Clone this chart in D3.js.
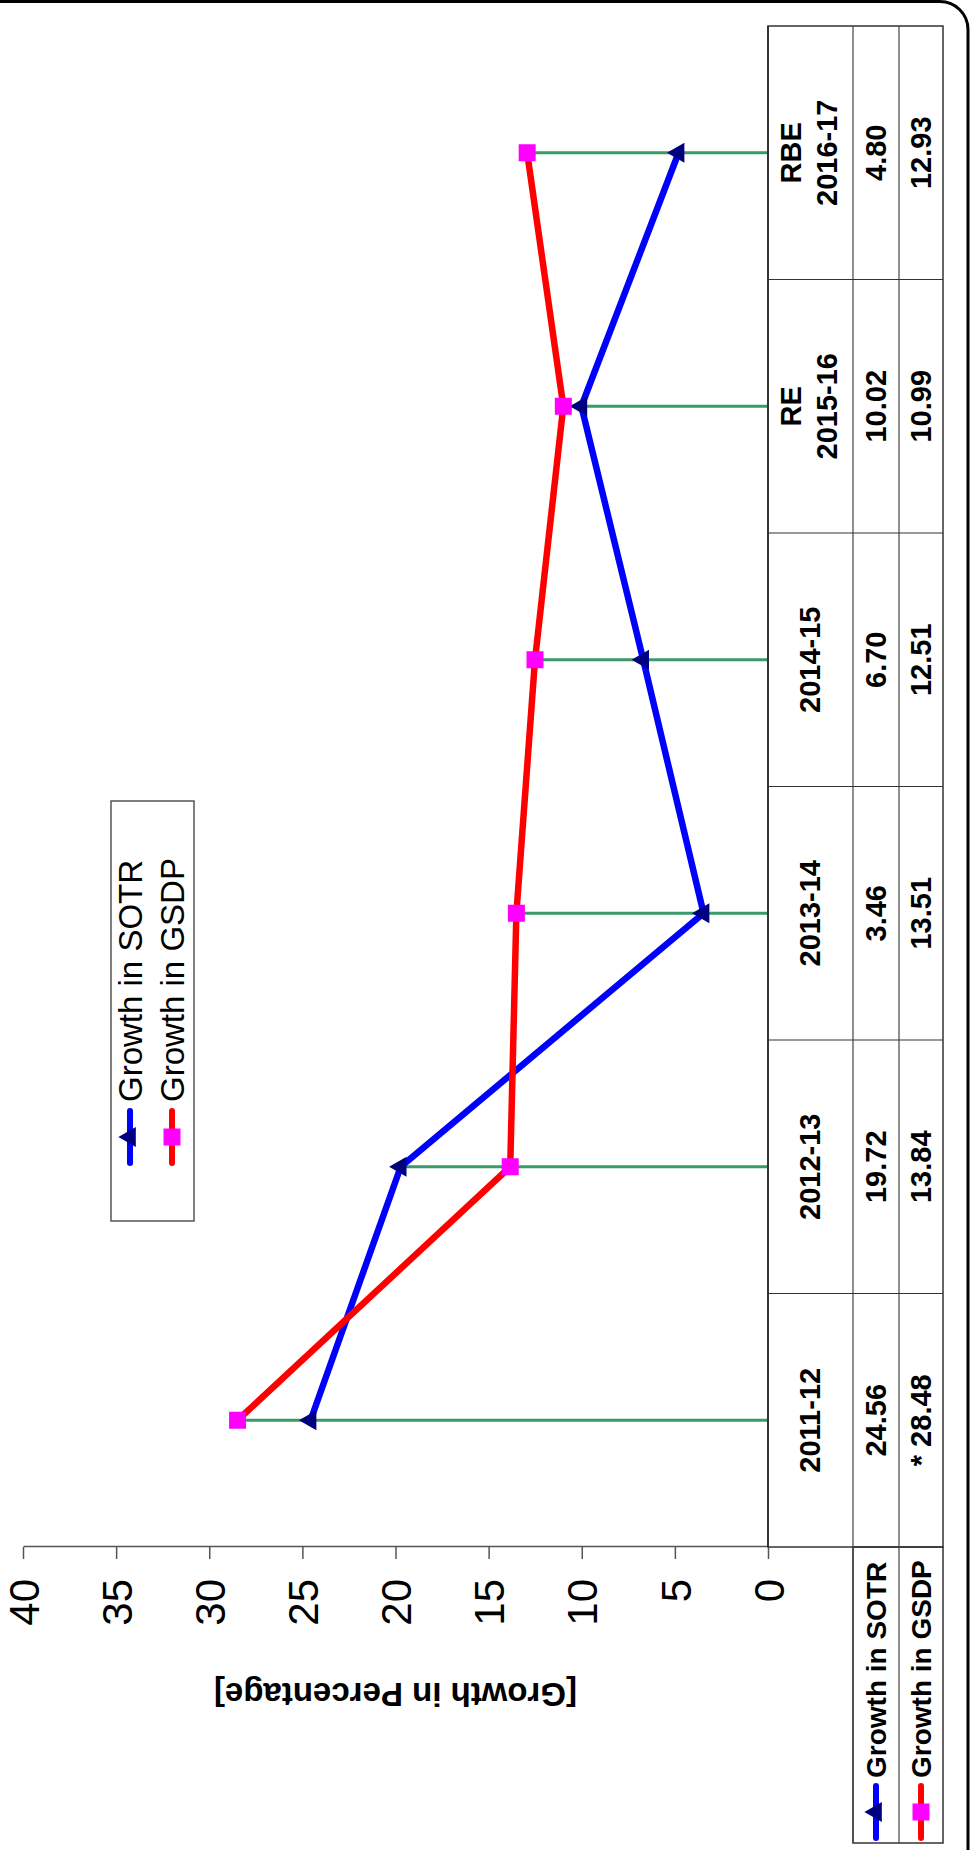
<!DOCTYPE html>
<html>
<head>
<meta charset="utf-8">
<script src="https://cdnjs.cloudflare.com/ajax/libs/d3/7.8.5/d3.min.js"></script>
<style>
  body { margin: 0; background: #fff; }
  svg { display: block; font-family: "Liberation Sans", Arial, sans-serif; }
</style>
</head>
<body>
<svg id="canvas" width="970" height="1850"></svg>
<script>

var categories = ["2011-12", "2012-13", "2013-14", "2014-15", "2015-16", "2016-17"];
var categoryPrefix = ["", "", "", "", "RE", "RBE"];
var sotr = [24.56, 19.72, 3.46, 6.70, 10.02, 4.80];
var gsdp = [28.48, 13.84, 13.51, 12.51, 10.99, 12.93];
var gsdpNote = ["* ", "", "", "", "", ""];
var seriesNames = ["Growth in SOTR", "Growth in GSDP"];
var yTicks = [0, 5, 10, 15, 20, 25, 30, 35, 40];
var yTitle = "[Growth in Percentage]";

var svg = d3.select("#canvas");

// page frame
svg.append("rect")
  .attr("x", -30)
  .attr("y", 1.5)
  .attr("width", 998)
  .attr("height", 1900)
  .attr("rx", 28)
  .attr("fill", "none")
  .attr("stroke", "#000")
  .attr("stroke-width", 3);

// the whole chart is drawn upright and then turned on its side
var chart = svg.append("g")
  .attr("transform", "translate(0,1850) rotate(-90)");

var x = d3.scaleBand()
  .domain(categories)
  .range([303, 1824]);

var y = d3.scaleLinear()
  .domain([0, 40])
  .range([768, 23]);

var rows = { head: [768, 853], sotr: [853, 899], gsdp: [899, 943] };

// y axis
var yAxis = d3.axisLeft(y)
  .tickValues(yTicks)
  .tickSize(12)
  .tickSizeOuter(0)
  .tickPadding(20);

var ax = chart.append("g")
  .attr("class", "y axis")
  .attr("transform", "translate(303,0)")
  .call(yAxis);

ax.select(".domain").attr("stroke", "#555").attr("stroke-width", 1.5);
ax.selectAll(".tick line").attr("stroke", "#555").attr("stroke-width", 1.5);
ax.selectAll(".tick text")
  .attr("font-size", 42)
  .attr("font-family", "Liberation Sans, Arial, sans-serif")
  .attr("fill", "#000")
  .attr("dy", "0.36em");

chart.append("text")
  .attr("transform", "translate(155," + ((y(0) + y(40)) / 2) + ") rotate(-90)")
  .attr("text-anchor", "middle")
  .attr("dy", "0.35em")
  .attr("font-size", 33)
  .attr("font-weight", "bold")
  .text(yTitle);

// drop lines from the higher point to zero
chart.append("g")
  .selectAll("line")
  .data(categories)
  .enter()
  .append("line")
  .attr("x1", function(d) { return x(d) + x.bandwidth() / 2; })
  .attr("x2", function(d) { return x(d) + x.bandwidth() / 2; })
  .attr("y1", y(0))
  .attr("y2", function(d, i) { return y(Math.max(sotr[i], gsdp[i])); })
  .attr("stroke", "#3a9a68")
  .attr("stroke-width", 2.8);

// data table
var table = chart.append("g").attr("class", "table");

table.append("rect")
  .attr("x", 303)
  .attr("y", rows.head[0])
  .attr("width", 1824 - 303)
  .attr("height", rows.gsdp[1] - rows.head[0])
  .attr("fill", "none")
  .attr("stroke", "#333")
  .attr("stroke-width", 1.5);

table.append("rect")
  .attr("x", 7)
  .attr("y", rows.sotr[0])
  .attr("width", 303 - 7)
  .attr("height", rows.gsdp[1] - rows.sotr[0])
  .attr("fill", "none")
  .attr("stroke", "#333")
  .attr("stroke-width", 1.5);

[rows.sotr[0], rows.gsdp[0]].forEach(function(yy) {
  table.append("line")
    .attr("x1", 7).attr("x2", 1824)
    .attr("y1", yy).attr("y2", yy)
    .attr("stroke", "#444")
    .attr("stroke-width", 1.2);
});

table.selectAll(".sep")
  .data(categories.slice(1))
  .enter()
  .append("line")
  .attr("class", "sep")
  .attr("x1", function(d) { return x(d); })
  .attr("x2", function(d) { return x(d); })
  .attr("y1", rows.head[0])
  .attr("y2", rows.gsdp[1])
  .attr("stroke", "#333")
  .attr("stroke-width", 1.2);

// the zero line on top of the table
chart.append("line")
  .attr("x1", 303).attr("x2", 1824)
  .attr("y1", y(0)).attr("y2", y(0))
  .attr("stroke", "#333")
  .attr("stroke-width", 2);

var cx = function(d) { return x(d) + x.bandwidth() / 2; };

var heads = table.selectAll(".head")
  .data(categories)
  .enter()
  .append("text")
  .attr("class", "head")
  .attr("text-anchor", "middle")
  .attr("font-size", 29)
  .attr("font-weight", "bold");

heads.each(function(d, i) {
  var t = d3.select(this);
  if (categoryPrefix[i]) {
    t.append("tspan").attr("x", cx(d)).attr("y", 791).attr("dy", "0.35em").text(categoryPrefix[i]);
    t.append("tspan").attr("x", cx(d)).attr("y", 827).attr("dy", "0.35em").text(d);
  } else {
    t.append("tspan").attr("x", cx(d)).attr("y", 810).attr("dy", "0.35em").text(d);
  }
});

table.selectAll(".v1")
  .data(categories)
  .enter()
  .append("text")
  .attr("x", cx)
  .attr("y", (rows.sotr[0] + rows.sotr[1]) / 2)
  .attr("dy", "0.35em")
  .attr("text-anchor", "middle")
  .attr("font-size", 29)
  .attr("font-weight", "bold")
  .text(function(d, i) { return sotr[i].toFixed(2); });

table.selectAll(".v2")
  .data(categories)
  .enter()
  .append("text")
  .attr("x", cx)
  .attr("y", (rows.gsdp[0] + rows.gsdp[1]) / 2)
  .attr("dy", "0.35em")
  .attr("text-anchor", "middle")
  .attr("font-size", 29)
  .attr("font-weight", "bold")
  .text(function(d, i) { return gsdpNote[i] + gsdp[i].toFixed(2); });

// series drawing helpers
var styles = [
  { line: "#0000ff", marker: "#000080", shape: "triangle" },
  { line: "#ff0000", marker: "#ff00ff", shape: "square" }
];

function marker(g, shape, px, py, color) {
  if (shape == "triangle") {
    g.append("path")
      .attr("d", d3.symbol(d3.symbolTriangle, 175)())
      .attr("transform", "translate(" + px + "," + py + ")")
      .attr("fill", color);
  } else {
    g.append("rect")
      .attr("x", px - 8.5).attr("y", py - 8.5)
      .attr("width", 17).attr("height", 17)
      .attr("fill", color);
  }
}

var line = d3.line()
  .x(function(d, i) { return cx(categories[i]); })
  .y(function(d) { return y(d); });

[sotr, gsdp].forEach(function(values, s) {
  var g = chart.append("g");
  g.append("path")
    .attr("d", line(values))
    .attr("fill", "none")
    .attr("stroke", styles[s].line)
    .attr("stroke-width", 6.5)
    .attr("stroke-linejoin", "round");
  values.forEach(function(v, i) {
    marker(g, styles[s].shape, cx(categories[i]), y(v), styles[s].marker);
  });

  // keys inside the table's first column
  var rowMid = s == 0 ? (rows.sotr[0] + rows.sotr[1]) / 2 : (rows.gsdp[0] + rows.gsdp[1]) / 2;
  table.append("line")
    .attr("x1", 12).attr("x2", 64)
    .attr("y1", rowMid).attr("y2", rowMid)
    .attr("stroke", styles[s].line)
    .attr("stroke-width", 6)
    .attr("stroke-linecap", "round");
  marker(table, styles[s].shape, 38, rowMid, styles[s].marker);
  table.append("text")
    .attr("x", 72)
    .attr("y", rowMid)
    .attr("dy", "0.35em")
    .attr("font-size", 28)
    .attr("font-weight", "bold")
    .text(seriesNames[s]);
});

// legend
var legend = chart.append("g")
  .attr("transform", "translate(629,111)");

legend.append("rect")
  .attr("width", 420)
  .attr("height", 83)
  .attr("fill", "#fff")
  .attr("stroke", "#555")
  .attr("stroke-width", 1.5);

seriesNames.forEach(function(name, s) {
  var ly = s == 0 ? 19 : 61;
  legend.append("line")
    .attr("x1", 58).attr("x2", 110)
    .attr("y1", ly).attr("y2", ly)
    .attr("stroke", styles[s].line)
    .attr("stroke-width", 6)
    .attr("stroke-linecap", "round");
  marker(legend, styles[s].shape, 84, ly, styles[s].marker);
  legend.append("text")
    .attr("x", 119)
    .attr("y", ly)
    .attr("dy", "0.35em")
    .attr("font-size", 33)
    .text(name);
});

</script>
</body>
</html>
